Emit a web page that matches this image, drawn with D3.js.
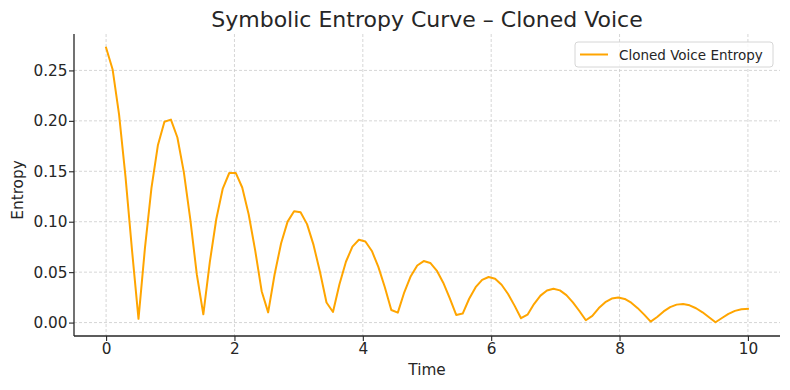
<!DOCTYPE html>
<html>
<head>
<meta charset="utf-8">
<script src="https://cdn.jsdelivr.net/npm/d3@7"></script>
<style>
  html, body { margin: 0; padding: 0; background: #fff; }
  svg { display: block; font-family: "DejaVu Sans", sans-serif; }
</style>
</head>
<body>
<svg id="chart" width="790" height="390"></svg>
<script>
const times = [
  0.000,0.101,0.202,0.303,0.404,0.505,0.606,0.707,0.808,0.909,
  1.010,1.111,1.212,1.313,1.414,1.515,1.616,1.717,1.818,1.919,
  2.020,2.121,2.222,2.323,2.424,2.525,2.626,2.727,2.828,2.929,
  3.030,3.131,3.232,3.333,3.434,3.535,3.636,3.737,3.838,3.939,
  4.040,4.141,4.242,4.343,4.444,4.545,4.646,4.747,4.848,4.949,
  5.051,5.152,5.253,5.354,5.455,5.556,5.657,5.758,5.859,5.960,
  6.061,6.162,6.263,6.364,6.465,6.566,6.667,6.768,6.869,6.970,
  7.071,7.172,7.273,7.374,7.475,7.576,7.677,7.778,7.879,7.980,
  8.081,8.182,8.283,8.384,8.485,8.586,8.687,8.788,8.889,8.990,
  9.091,9.192,9.293,9.394,9.495,9.596,9.697,9.798,9.899,10.000
];
const entropy = [
  0.2725,0.2512,0.2065,0.1443,0.0717,0.0037,0.0743,0.1335,0.1761,0.1991,
  0.2012,0.1835,0.1489,0.1018,0.0475,0.0082,0.0599,0.1027,0.1329,0.1483,
  0.1484,0.1339,0.1072,0.0716,0.0311,0.0101,0.0479,0.0787,0.1001,0.1104,
  0.1093,0.0976,0.0770,0.0501,0.0199,0.0105,0.0380,0.0603,0.0753,0.0821,
  0.0804,0.0710,0.0552,0.0350,0.0125,0.0099,0.0300,0.0460,0.0566,0.0610,
  0.0591,0.0516,0.0395,0.0243,0.0076,0.0089,0.0236,0.0351,0.0424,0.0452,
  0.0434,0.0375,0.0283,0.0168,0.0043,0.0078,0.0184,0.0267,0.0318,0.0335,
  0.0319,0.0272,0.0201,0.0115,0.0023,0.0066,0.0144,0.0202,0.0238,0.0248,
  0.0234,0.0197,0.0143,0.0079,0.0010,0.0055,0.0111,0.0153,0.0178,0.0184,
  0.0171,0.0142,0.0102,0.0053,0.0003,0.0045,0.0086,0.0116,0.0133,0.0136
];
const xTicks = [0, 2, 4, 6, 8, 10];
const yTicks = [0.00, 0.05, 0.10, 0.15, 0.20, 0.25];
const seriesName = "Cloned Voice Entropy";
const titleText = "Symbolic Entropy Curve \u2013 Cloned Voice";
const xLabel = "Time";
const yLabel = "Entropy";

const svg = d3.select("#chart");
const pL = 74, pR = 780, pT = 34, pB = 336;
const textColor = "#262626";

const xMin = d3.min(times), xMax = d3.max(times);
const xPad = (xMax - xMin) * 0.05;
const yMin = d3.min(entropy), yMax = d3.max(entropy);
const yPad = (yMax - yMin) * 0.05;

const x = d3.scaleLinear().domain([xMin - xPad, xMax + xPad]).range([pL, pR]);
const y = d3.scaleLinear().domain([yMin - yPad, yMax + yPad]).range([pB, pT]);

// grid
const grid = svg.append("g");
grid.selectAll(".gx").data(xTicks).enter().append("line")
  .attr("x1", d => x(d)).attr("x2", d => x(d))
  .attr("y1", pT).attr("y2", pB)
  .attr("stroke", "#cccccc").attr("stroke-width", 0.8).attr("stroke-dasharray", "3,2");
grid.selectAll(".gy").data(yTicks).enter().append("line")
  .attr("x1", pL).attr("x2", pR)
  .attr("y1", d => y(d)).attr("y2", d => y(d))
  .attr("stroke", "#cccccc").attr("stroke-width", 0.8).attr("stroke-dasharray", "3,2");

// line
const line = d3.line().x((d, i) => x(times[i])).y(d => y(d));
svg.append("path").datum(entropy)
  .attr("d", line)
  .attr("fill", "none")
  .attr("stroke", "#FFA500")
  .attr("stroke-width", 2)
  .attr("stroke-linejoin", "round")
  .attr("stroke-linecap", "square");

// axes
const xAxis = svg.append("g").attr("transform", `translate(0,${pB})`)
  .call(d3.axisBottom(x).tickValues(xTicks).tickFormat(d3.format("d")).tickSizeOuter(0).tickSize(5).tickPadding(2));
const yAxis = svg.append("g").attr("transform", `translate(${pL},0)`)
  .call(d3.axisLeft(y).tickValues(yTicks).tickFormat(d3.format(".2f")).tickSizeOuter(0).tickSize(5).tickPadding(1.5));
[xAxis, yAxis].forEach(a => {
  a.select(".domain").attr("stroke", textColor).attr("stroke-width", 1.3);
  a.selectAll(".tick line").attr("stroke", textColor).attr("stroke-width", 1.1);
  a.selectAll(".tick text").attr("fill", textColor)
    .style("font-family", "DejaVu Sans").style("font-size", "15.3px");
});
xAxis.select(".domain").attr("d", `M${pL},0H${pR}`);
yAxis.select(".domain").attr("d", `M0,${pT}V${pB}`);

// labels
svg.append("text").attr("x", (pL + pR) / 2).attr("y", 27)
  .attr("text-anchor", "middle").attr("fill", textColor)
  .style("font-size", "22px").text(titleText);
svg.append("text").attr("x", (pL + pR) / 2).attr("y", 375)
  .attr("text-anchor", "middle").attr("fill", textColor)
  .style("font-size", "15.3px").text(xLabel);
svg.append("text").attr("transform", `translate(23,190) rotate(-90)`)
  .attr("text-anchor", "middle").attr("fill", textColor)
  .style("font-size", "15.3px").text(yLabel);

// legend
const lg = svg.append("g");
lg.append("rect").attr("x", 575).attr("y", 42).attr("width", 198).attr("height", 25)
  .attr("rx", 3).attr("fill", "#fff").attr("fill-opacity", 0.8)
  .attr("stroke", "#d6d6d6").attr("stroke-width", 1);
lg.append("line").attr("x1", 580).attr("x2", 608).attr("y1", 54.5).attr("y2", 54.5)
  .attr("stroke", "#FFA500").attr("stroke-width", 2);
lg.append("text").attr("x", 619).attr("y", 59.5).attr("fill", textColor)
  .style("font-size", "13.5px").text(seriesName);
</script>
</body>
</html>
